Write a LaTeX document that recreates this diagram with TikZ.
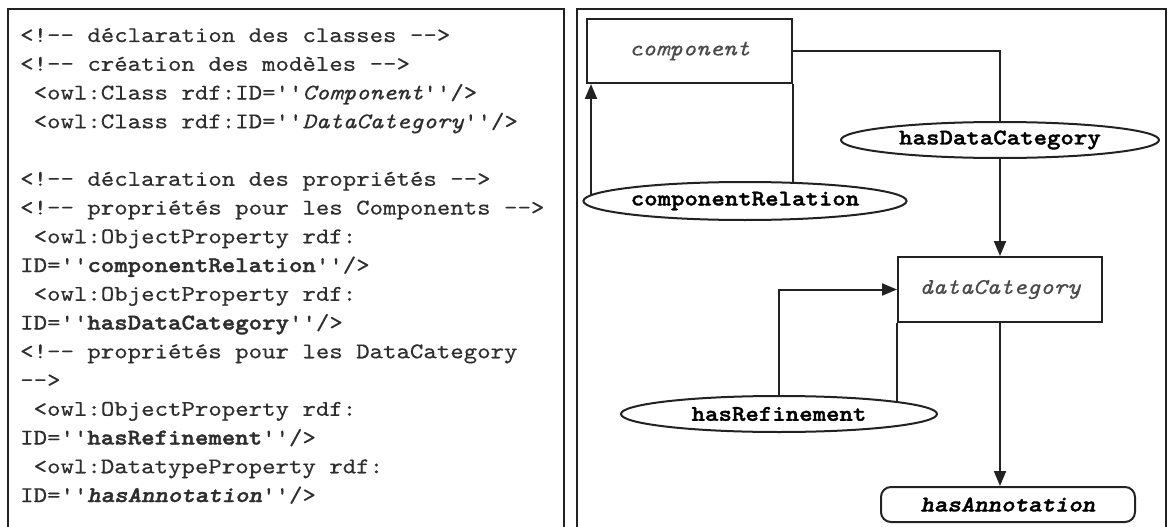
\documentclass[tikz,border=0pt]{standalone}
\usepackage{fontspec}
\setmonofont{lmmono10-regular.otf}[
  BoldFont=lmmonolt10-bold.otf,
  ItalicFont=lmmono10-italic.otf,
  BoldItalicFont=lmmonolt10-boldoblique.otf,
  UprightFeatures={FakeBold=0.4},
  ItalicFeatures={FakeBold=0.4},
  BoldFeatures={FakeBold=1.6},
  BoldItalicFeatures={FakeBold=1.6},
  FakeStretch=1.143]
\usetikzlibrary{arrows.meta,shapes.geometric,backgrounds}
\definecolor{codegray}{HTML}{2E2E2E}
\definecolor{linegray}{HTML}{222222}
\definecolor{labgray}{HTML}{4A4A4A}
\begin{document}
\begin{tikzpicture}[x=1pt,y=-1pt,
  codeline/.style={anchor=base west, inner sep=0pt, text=codegray,
    font=\ttfamily\fontsize{22.4}{26}\selectfont},
  panel/.style={draw=linegray, line width=2pt},
  classbox/.style={draw=linegray, line width=2pt, rectangle, inner sep=0pt, fill=white,
    text=labgray, font=\ttfamily\itshape\fontsize{22.4}{26}\selectfont},
  propell/.style={draw=linegray, line width=2pt, ellipse, inner sep=0pt, fill=white,
    font=\ttfamily\bfseries\fontsize{22.4}{26}\selectfont},
  databox/.style={draw=linegray, line width=2pt, rectangle, rounded corners=10pt,
    inner sep=0pt, fill=white, font=\ttfamily\bfseries\itshape\fontsize{22.4}{26}\selectfont},
  conn/.style={draw=linegray, line width=2pt},
  arr/.style={conn, -{Triangle[length=15pt,width=12pt]}}]
\useasboundingbox (0,0) rectangle (1168,527);
\clip (0,0) rectangle (1168,527);
% panels
\draw[panel] (8,560) -- (8,9) -- (564,9) -- (564,560);
\draw[panel] (577,560) -- (577,9) -- (1166,9) -- (1166,560);
% code lines
\node[codeline] (l0)  at (20,42)    {<!-- déclaration des classes -->};
\node[codeline] (l1)  at (20,70.75) {<!-- création des modèles -->};
\node[codeline] (l2)  at (20,99.5)  {\hphantom{x}<owl:Class rdf:ID=''\textit{Component}''/>};
\node[codeline] (l3)  at (20,128.25){\hphantom{x}<owl:Class rdf:ID=''\textit{DataCategory}''/>};
\node[codeline] (l5)  at (20,185.75){<!-- déclaration des propriétés -->};
\node[codeline] (l6)  at (20,214.5) {<!-- propriétés pour les Components -->};
\node[codeline] (l7)  at (20,243.25){\hphantom{x}<owl:ObjectProperty rdf:};
\node[codeline] (l8)  at (20,272)   {ID=''\textbf{componentRelation}''/>};
\node[codeline] (l9)  at (20,300.75){\hphantom{x}<owl:ObjectProperty rdf:};
\node[codeline] (l10) at (20,329.5) {ID=''\textbf{hasDataCategory}''/>};
\node[codeline] (l11) at (20,358.25){<!-- propriétés pour les DataCategory};
\node[codeline] (l12) at (20,387)   {-->};
\node[codeline] (l13) at (20,415.75){\hphantom{x}<owl:ObjectProperty rdf:};
\node[codeline] (l14) at (20,444.5) {ID=''\textbf{hasRefinement}''/>};
\node[codeline] (l15) at (20,473.25){\hphantom{x}<owl:DatatypeProperty rdf:};
\node[codeline] (l16) at (20,502)   {ID=''\textbf{\textit{hasAnnotation}}''/>};
% diagram nodes
\node[classbox, minimum width=205pt, minimum height=64pt] (comp) at (689.5,51) {component};
\node[propell, minimum width=318pt, minimum height=36pt] (hdc) at (1000,140) {hasDataCategory};
\node[propell, minimum width=319pt, minimum height=38pt] (cr) at (745,201) {componentRelation};
\node[classbox, minimum width=204pt, minimum height=65pt] (dc) at (1000,289.5) {dataCategory};
\node[propell, minimum width=316pt, minimum height=36pt] (hr) at (779,414) {hasRefinement};
\node[databox, minimum width=254pt, minimum height=35pt] (ha) at (1008,504.5) {hasAnnotation};
\coordinate (crx) at (591,0);
% connectors (behind the nodes)
\begin{scope}[on background layer]
\fill[white] (0,0) rectangle (1168,527);
\draw[conn] (comp.east) -| (hdc.center);
\draw[arr] (hdc.south) -- (hdc.south |- dc.north);
\draw[conn] (comp.south east) -- (comp.south east |- cr.center);
\draw[arr] (crx |- cr.center) -- (crx |- comp.south);
\draw[arr] (hr.north) |- (dc.west);
\draw[conn] (dc.south west) -- (dc.south west |- hr.center);
\draw[arr] (dc.south) -- (dc.south |- ha.north);
\end{scope}
\end{tikzpicture}
\end{document}
